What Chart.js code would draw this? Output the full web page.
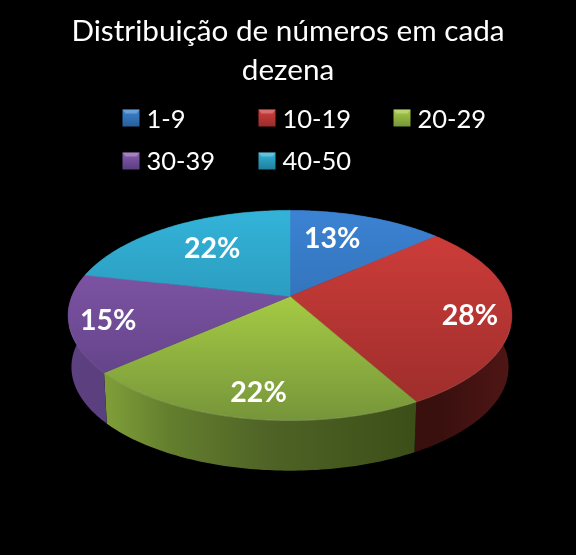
<!DOCTYPE html>
<html>
<head>
<meta charset="utf-8">
<style>
  html, body { margin: 0; padding: 0; background: #000; }
  canvas { display: block; }
</style>
<script src="https://cdn.jsdelivr.net/npm/chart.js@4"></script>
</head>
<body>
<canvas id="myChart" width="576" height="555"></canvas>
<script>
const titleLines = ["Distribuição de números em cada", "dezena"];
const categories = ["1-9", "10-19", "20-29", "30-39", "40-50"];
const shares = [13.45, 28.45, 21.6, 15.0, 21.5];

// top face colours, top of the pie to bottom of the pie
const topLight = ["#3b82d2", "#d23e3b", "#a6cc44", "#8a5cb0", "#33b2d8"];
const topDark = ["#28609a", "#992c2a", "#76953a", "#5a3d80", "#207f9c"];
// rim colours, left to right
const sideLeft = ["#1f4a75", "#4e1615", "#7d9c38", "#5c4080", "#1a6478"];
const sideMid = ["#1f4a75", "#3a100f", "#4f6326", "#503870", "#1a6478"];
const sideRight = ["#1f4a75", "#4e1615", "#3c4f18", "#4a3368", "#1a6478"];

const font = "Lato, Carlito, sans-serif";
const depth = 52;
const tilt = 0.181;
const labelOffsets = [[-14, 1], [26, 7], [-2, 16], [-29, 6], [9, 3]];

// circle -> screen, a bit of perspective so the centre sits above the ellipse middle
function project(el, angle, r, drop, shrink) {
  const u = Math.cos(angle) * r;
  const v = Math.sin(angle) * r;
  const R = el.outerRadius;
  const w = 1 - tilt * v;
  return {
    x: el.x + 2 + shrink * 0.983 * R * u / w,
    y: el.y - 0.0856 * R + drop + shrink * 0.4577 * R * v / w,
  };
}

function arcPoints(el, drop, shrink, reverse) {
  const pts = [];
  const steps = 80;
  for (let i = 0; i <= steps; i++) {
    const t = reverse ? 1 - i / steps : i / steps;
    const a = el.startAngle + (el.endAngle - el.startAngle) * t;
    pts.push(project(el, a, 1, drop, shrink));
  }
  return pts;
}

const pie3d = {
  id: "pie3d",
  beforeDatasetsDraw(chart) {
    const ctx = chart.ctx;
    const arcs = chart.getDatasetMeta(0).data;
    const first = arcs[0];
    const left = project(first, Math.PI, 1, 0, 1).x;
    const right = project(first, 0, 1, 0, 1).x;
    const top = project(first, -Math.PI / 2, 1, 0, 1).y;
    const bottom = project(first, Math.PI / 2, 1, 0, 1).y;

    // rim first, top faces go over it
    arcs.forEach((el, i) => {
      const pts = arcPoints(el, 0, 1, false).concat(arcPoints(el, depth, 0.985, true));
      const grad = ctx.createLinearGradient(left, 0, right, 0);
      if (i === 1) {
        grad.addColorStop(0, sideMid[i]);
        grad.addColorStop(0.85, sideMid[i]);
        grad.addColorStop(1, sideRight[i]);
      } else if (i === 2) {
        grad.addColorStop(0.09, sideLeft[i]);
        grad.addColorStop(0.22, "#647f2e");
        grad.addColorStop(0.45, sideMid[i]);
        grad.addColorStop(0.78, sideRight[i]);
      } else {
        grad.addColorStop(0, sideLeft[i]);
        grad.addColorStop(1, sideRight[i]);
      }
      ctx.beginPath();
      pts.forEach((p, n) => (n ? ctx.lineTo(p.x, p.y) : ctx.moveTo(p.x, p.y)));
      ctx.closePath();
      ctx.fillStyle = grad;
      ctx.fill();
    });

    arcs.forEach((el, i) => {
      const apex = project(el, 0, 0, 0, 1);
      const grad = ctx.createLinearGradient(0, top, 0, bottom);
      grad.addColorStop(0, topLight[i]);
      grad.addColorStop(i === 2 ? 0.4 : 0.02, topLight[i]);
      grad.addColorStop(1, topDark[i]);
      ctx.beginPath();
      ctx.moveTo(apex.x, apex.y);
      const pts = arcPoints(el, 0, 1, false);
      pts.forEach((p) => ctx.lineTo(p.x, p.y));
      ctx.closePath();
      ctx.fillStyle = grad;
      ctx.fill();
      ctx.strokeStyle = grad;
      ctx.lineWidth = 0.5;
      ctx.stroke();

      // thin highlight on the front rim only
      ctx.beginPath();
      pts.filter((p) => p.y > apex.y + 30).forEach((p, n) => (n ? ctx.lineTo(p.x, p.y) : ctx.moveTo(p.x, p.y)));
      ctx.strokeStyle = "rgba(255,255,255,0.12)";
      ctx.lineWidth = 1;
      ctx.stroke();
    });

    // value labels
    const total = shares.reduce((a, b) => a + b, 0);
    ctx.fillStyle = "#fff";
    ctx.font = "bold 28.5px " + font;
    ctx.textAlign = "center";
    ctx.textBaseline = "middle";
    arcs.forEach((el, i) => {
      const mid = (el.startAngle + el.endAngle) / 2;
      const p = project(el, mid, 0.7, 0, 1);
      ctx.fillText(Math.round(shares[i] / total * 100) + "%", p.x + labelOffsets[i][0], p.y + labelOffsets[i][1]);
    });
    return false;
  },
  afterDraw(chart) {
    // two row legend on fixed columns, the built in one can't do columns
    const ctx = chart.ctx;
    const colX = [122, 258, 393];
    const rowY = [119, 161];
    const size = 17;
    ctx.save();
    ctx.font = "25.5px " + font;
    ctx.textAlign = "left";
    ctx.textBaseline = "middle";
    categories.forEach((label, i) => {
      const x = colX[i % 3];
      const y = rowY[Math.floor(i / 3)];
      const bx = x + 0.5;
      const by = y - size / 2 - (i < 3 ? 1 : 0);
      const grad = ctx.createLinearGradient(0, by, 0, by + size);
      grad.addColorStop(0, topLight[i]);
      grad.addColorStop(1, topDark[i]);
      ctx.fillStyle = grad;
      ctx.fillRect(bx, by, size, size);
      // bevel on top
      ctx.fillStyle = "rgba(255,255,255,0.25)";
      ctx.beginPath();
      ctx.moveTo(bx, by);
      ctx.lineTo(bx + size, by);
      ctx.lineTo(bx + size - 3, by + 4);
      ctx.lineTo(bx + 3, by + 4);
      ctx.closePath();
      ctx.fill();
      ctx.fillStyle = "#fff";
      ctx.fillText(label, x + 24.5, y + 1);
    });
    ctx.restore();
  },
};

const background = {
  id: "background",
  beforeDraw(chart) {
    chart.ctx.save();
    chart.ctx.fillStyle = "#000";
    chart.ctx.fillRect(0, 0, chart.width, chart.height);
    chart.ctx.restore();
  },
};

const config = {
  type: "pie",
  data: {
    labels: categories,
    datasets: [{ data: shares, backgroundColor: topLight, borderWidth: 0 }],
  },
  options: {
    responsive: false,
    animation: false,
    layout: { padding: { left: 66, right: 66, bottom: 15 } },
    plugins: {
      legend: { display: false },
      tooltip: { enabled: false },
      title: {
        display: true,
        text: titleLines,
        color: "#fff",
        font: { family: font, size: 29.7, weight: "normal", lineHeight: 1.345 },
        padding: { top: 11, bottom: 0 },
      },
    },
  },
  plugins: [background, pie3d],
};
const newChart = new Chart("myChart", config);
</script>
</body>
</html>
